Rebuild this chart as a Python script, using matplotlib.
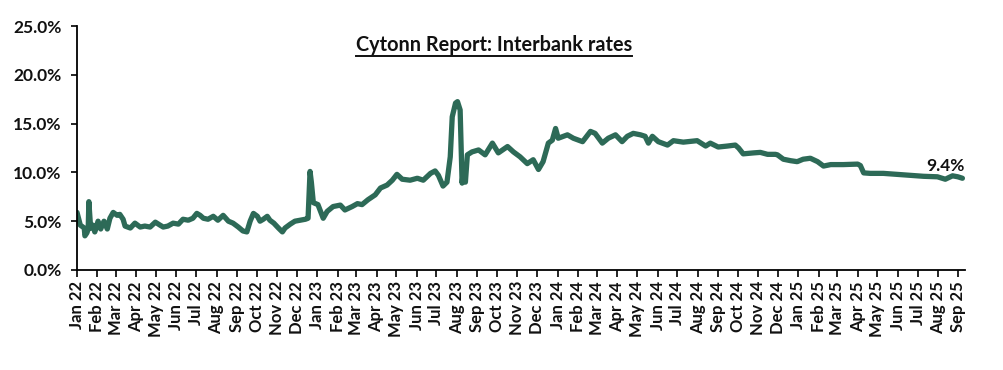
import matplotlib
matplotlib.use("Agg")
import matplotlib.pyplot as plt
import matplotlib.dates as mdates
from matplotlib.lines import Line2D
import pandas as pd

dates = [
    "2022-01-01", "2022-01-06", "2022-01-12", "2022-01-13", "2022-01-16", "2022-01-18", "2022-01-19",
    "2022-01-21", "2022-01-22", "2022-01-25", "2022-01-28", "2022-02-02", "2022-02-06", "2022-02-11",
    "2022-02-16", "2022-02-20", "2022-02-25", "2022-03-03", "2022-03-07", "2022-03-12", "2022-03-15",
    "2022-03-23", "2022-03-30", "2022-04-07", "2022-04-14", "2022-04-22", "2022-04-30", "2022-05-07",
    "2022-05-12", "2022-05-19", "2022-05-27", "2022-06-04", "2022-06-11", "2022-06-19", "2022-06-26",
    "2022-07-02", "2022-07-07", "2022-07-12", "2022-07-19", "2022-07-27", "2022-08-03", "2022-08-11",
    "2022-08-19", "2022-08-26", "2022-09-03", "2022-09-10", "2022-09-16", "2022-09-21", "2022-09-26",
    "2022-10-02", "2022-10-06", "2022-10-11", "2022-10-17", "2022-10-21", "2022-10-27", "2022-11-03",
    "2022-11-09", "2022-11-13", "2022-11-21", "2022-11-28", "2022-12-06", "2022-12-14", "2022-12-18",
    "2022-12-21", "2022-12-23", "2022-12-26", "2023-01-02", "2023-01-10", "2023-01-16", "2023-01-25",
    "2023-02-05", "2023-02-12", "2023-02-23", "2023-03-03", "2023-03-10", "2023-03-19", "2023-03-30",
    "2023-04-07", "2023-04-17", "2023-04-25", "2023-05-02", "2023-05-10", "2023-05-22", "2023-06-02",
    "2023-06-11", "2023-06-22", "2023-06-29", "2023-07-04", "2023-07-11", "2023-07-17", "2023-07-22",
    "2023-07-25", "2023-07-30", "2023-08-02", "2023-08-06", "2023-08-09", "2023-08-11", "2023-08-14",
    "2023-08-17", "2023-08-24", "2023-09-03", "2023-09-13", "2023-09-24", "2023-10-03", "2023-10-17",
    "2023-10-26", "2023-11-05", "2023-11-16", "2023-11-25", "2023-12-03", "2023-12-10", "2023-12-18",
    "2023-12-24", "2023-12-29", "2024-01-02", "2024-01-16", "2024-01-25", "2024-02-08", "2024-02-20",
    "2024-02-27", "2024-03-09", "2024-03-18", "2024-03-29", "2024-04-08", "2024-04-16", "2024-04-25",
    "2024-05-06", "2024-05-13", "2024-05-18", "2024-05-24", "2024-06-02", "2024-06-16", "2024-06-25",
    "2024-07-10", "2024-07-31", "2024-08-13", "2024-08-20", "2024-09-01", "2024-09-15", "2024-09-27",
    "2024-10-02", "2024-10-09", "2024-10-25", "2024-11-04", "2024-11-15", "2024-11-27", "2024-11-30",
    "2024-12-09", "2024-12-20", "2024-12-30", "2025-01-08", "2025-01-19", "2025-01-30", "2025-02-08",
    "2025-02-19", "2025-03-10", "2025-04-01", "2025-04-05", "2025-04-10", "2025-04-20", "2025-05-10",
    "2025-05-31", "2025-06-20", "2025-07-10", "2025-07-31", "2025-08-12", "2025-08-23", "2025-08-31",
    "2025-09-07",
]

rates = [
    5.9, 4.6, 4.3, 3.5, 3.8, 4.2, 7.0,
    5.0, 4.3, 4.6, 3.9, 5.0, 4.2, 5.0,
    4.2, 5.3, 5.9, 5.6, 5.7, 5.2, 4.5,
    4.3, 4.8, 4.4, 4.5, 4.4, 4.9, 4.6,
    4.4, 4.5, 4.8, 4.7, 5.2, 5.1, 5.3,
    5.8, 5.6, 5.3, 5.2, 5.5, 5.1, 5.6,
    5.0, 4.8, 4.4, 4.0, 3.9, 5.0, 5.8,
    5.5, 5.0, 5.2, 5.5, 5.1, 4.8, 4.3,
    3.9, 4.3, 4.7, 5.0, 5.1, 5.2, 5.3,
    10.1, 9.0, 6.9, 6.7, 5.3, 6.0, 6.5,
    6.65, 6.15, 6.5, 6.8, 6.7, 7.2, 7.7,
    8.4, 8.7, 9.2, 9.8, 9.3, 9.2, 9.4,
    9.2, 9.9, 10.15, 9.7, 8.6, 9.0, 11.6,
    15.7, 17.1, 17.25, 16.4, 8.9, 10.25, 9.0,
    11.8, 12.1, 12.3, 11.8, 13.0, 12.0, 12.65,
    12.1, 11.6, 10.9, 11.3, 10.3, 11.1, 13.0,
    13.3, 14.5, 13.5, 13.85, 13.5, 13.15, 14.2,
    14.0, 13.0, 13.5, 13.85, 13.15, 13.7, 14.0,
    13.85, 13.7, 13.0, 13.7, 13.15, 12.8, 13.25,
    13.1, 13.25, 12.7, 13.0, 12.6, 12.7, 12.8,
    12.5, 11.9, 12.0, 12.05, 11.85, 11.85, 11.8,
    11.35, 11.2, 11.1, 11.35, 11.45, 11.1, 10.65,
    10.8, 10.8, 10.85, 10.7, 9.95, 9.9, 9.9,
    9.8, 9.7, 9.6, 9.55, 9.3, 9.65, 9.55,
    9.4,
]

title = "Cytonn Report: Interbank rates"
line_color = "#2d6a57"
font = ["Lato", "DejaVu Sans"]

x = pd.to_datetime(dates)

fig = plt.figure(figsize=(10.04, 3.70), dpi=100)
ax = fig.add_axes([0.0767, 0.2703, 0.8845, 0.6594])

ax.plot(x, rates, color=line_color, lw=3.8, solid_joinstyle="round", solid_capstyle="round")

ax.set_ylim(0, 25)
ax.set_yticks([0, 5, 10, 15, 20, 25])
ax.yaxis.set_major_formatter(plt.FuncFormatter(lambda v, p: f"{v:.1f}%"))
ax.set_xlim(pd.Timestamp("2022-01-01"), pd.Timestamp("2025-09-11"))
ax.xaxis.set_major_locator(mdates.MonthLocator())
ax.xaxis.set_major_formatter(mdates.DateFormatter("%b %y"))

for s in ["top", "right"]:
    ax.spines[s].set_visible(False)
for s in ["left", "bottom"]:
    ax.spines[s].set_linewidth(1.3)
    ax.spines[s].set_color("black")

ax.tick_params(axis="y", direction="out", length=4, width=1.2, pad=7)
ax.tick_params(axis="x", direction="out", length=5, width=1.2, pad=3)
for lab in ax.get_yticklabels():
    lab.set_fontfamily(font)
    lab.set_fontweight("bold")
    lab.set_fontsize(12.5)
    lab.set_color("#111111")
for lab in ax.get_xticklabels():
    lab.set_fontfamily(font)
    lab.set_fontweight("bold")
    lab.set_fontsize(12)
    lab.set_rotation(90)
    lab.set_color("#111111")

ax.annotate(f"{rates[-1]:.1f}%", xy=(x[-1], rates[-1]), xytext=(-12, 8.7),
            textcoords="offset points", ha="center", va="center",
            fontsize=12.5, fontweight="bold", family=font, color="#111111")

t = fig.text(494 / 1004, 1 - 45 / 370, title, ha="center", va="center",
             fontsize=14.3, fontweight="bold", family=font, color="#111111")
fig.canvas.draw()
bb = t.get_window_extent(fig.canvas.get_renderer()).transformed(fig.transFigure.inverted())
uy = bb.y0 - 1.0 / 370
fig.add_artist(Line2D([bb.x0, bb.x1], [uy, uy], transform=fig.transFigure, color="#111111", lw=1.4))

fig.savefig("out.png", dpi=100)
